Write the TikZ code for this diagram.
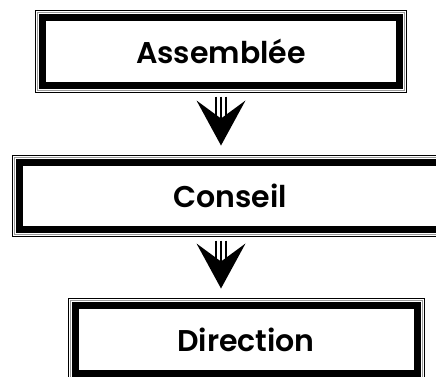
\documentclass[tikz,border=0pt]{standalone}
\usepackage{fontspec}
\setmainfont{Poppins}[BoldFont={Poppins SemiBold}]
\usetikzlibrary{arrows.meta}

\begin{document}
\begin{tikzpicture}[x=1pt, y=-1pt,
	organe/.style={draw, fill=white, line width=7pt, inner sep=0pt, outer sep=0pt,
		minimum height=68pt, font=\bfseries\fontsize{30}{35}\selectfont,
		preaction={draw=black, line width=15pt},
		preaction={draw=white, line width=13pt},
		preaction={draw=black!40, line width=11pt},
		preaction={draw=white, line width=9pt}},
	lien/.style={line width=1.5pt, shorten <=11pt, shorten >=17pt,
		-{Stealth[length=45pt, width=49pt, inset=18pt, line width=0pt]}},
	filet/.style={line width=1.5pt, shorten <=11pt}]
	\useasboundingbox (0,0) rectangle (436,376);
	\clip (0,0) rectangle (436,376);
	\node[organe, minimum width=357pt] (asm) at (221,51.5) {Assemblée};
	\node[organe, minimum width=422pt, minimum height=67pt] (cns) at (230,196) {Conseil};
	\node[organe, minimum width=342pt] (dir) at (246,339.5) {Direction};
	\draw[lien] (asm.south) -- (asm.south |- cns.north);
	\draw[lien] (asm.south |- cns.south) -- (asm.south |- dir.north);
	\foreach \s in {-5,5}{
		\draw[filet] ([xshift=\s pt]asm.south) -- ++(0,33);
		\draw[filet] ([xshift=\s pt]asm.south |- cns.south) -- ++(0,33);
	}
\end{tikzpicture}
\end{document}
